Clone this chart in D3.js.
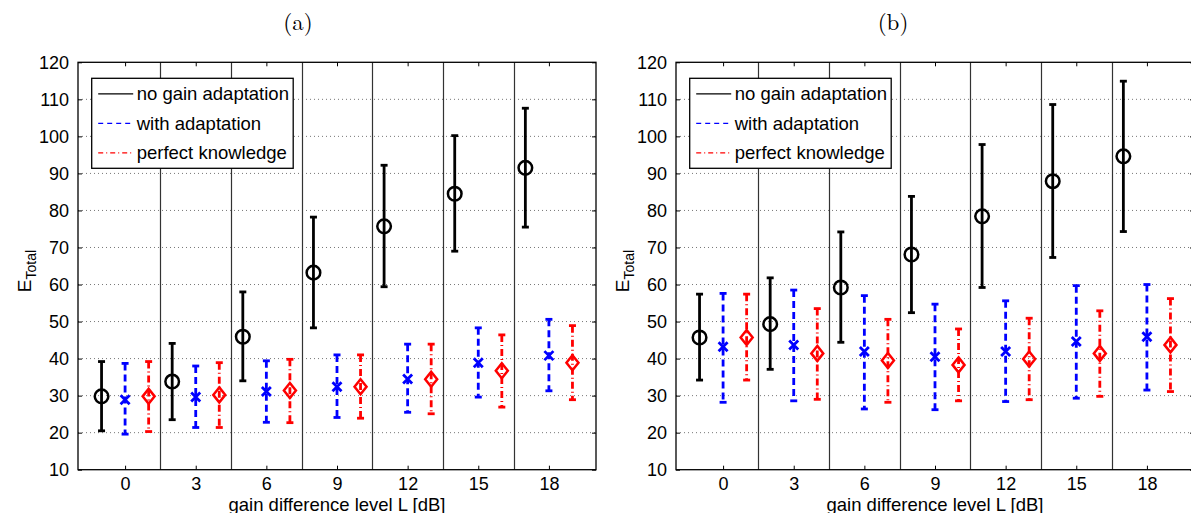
<!DOCTYPE html>
<html>
<head>
<meta charset="utf-8">
<script src="https://cdn.jsdelivr.net/npm/d3@7"></script>
<style>
  html, body { margin: 0; padding: 0; background: #fff; }
  svg { display: block; }
  text { font-family: "Liberation Sans", Arial, sans-serif; }
</style>
</head>
<body>
<script>
// ---------------- data ----------------
const levels = [0, 3, 6, 9, 12, 15, 18];
const xTicks = [0, 3, 6, 9, 12, 15, 18];
const yTicks = [10, 20, 30, 40, 50, 60, 70, 80, 90, 100, 110, 120];
const separators = [1.5, 4.5, 7.5, 10.5, 13.5, 16.5];
const seriesNames = ["no gain adaptation", "with adaptation", "perfect knowledge"];
const panelTitles = ["(a)", "(b)"];

// panel (a)
const aNoMean   = [29.8, 33.8, 45.9, 63.2, 75.7, 84.5, 91.5];
const aNoHigh   = [39.2, 44.1, 58.0, 78.2, 92.2, 100.2, 107.6];
const aNoLow    = [20.5, 23.5, 34.0, 48.3, 59.4, 69.0, 75.5];
const aWithMean = [28.9, 29.6, 31.1, 32.4, 34.5, 38.9, 40.8];
const aWithHigh = [38.7, 38.0, 39.4, 41.0, 43.9, 48.3, 50.6];
const aWithLow  = [19.6, 21.4, 22.8, 24.1, 25.5, 29.6, 31.3];
const aPerfMean = [29.8, 30.2, 31.4, 32.4, 34.4, 36.7, 38.9];
const aPerfHigh = [39.2, 38.9, 39.8, 41.0, 43.9, 46.4, 48.9];
const aPerfLow  = [20.3, 21.4, 22.7, 23.9, 25.1, 26.9, 28.9];

// panel (b)
const bNoMean   = [45.7, 49.3, 59.2, 68.1, 78.4, 87.9, 94.6];
const bNoHigh   = [57.4, 61.8, 74.2, 83.8, 97.8, 108.6, 114.9];
const bNoLow    = [34.2, 37.1, 44.4, 52.4, 59.2, 67.3, 74.3];
const bWithMean = [43.2, 43.7, 41.9, 40.5, 41.9, 44.6, 45.9];
const bWithHigh = [57.6, 58.5, 57.0, 54.7, 55.6, 59.7, 60.0];
const bWithLow  = [28.2, 28.6, 26.4, 26.2, 28.4, 29.3, 31.5];
const bPerfMean = [45.7, 41.4, 39.5, 38.3, 39.9, 41.4, 43.7];
const bPerfHigh = [57.4, 53.5, 50.6, 48.0, 50.9, 52.9, 56.2];
const bPerfLow  = [34.2, 29.0, 28.2, 28.6, 28.9, 29.8, 31.1];

// ---------------- drawing ----------------
const W = 1191, H = 513;
const svg = d3.select("body").append("svg").attr("width", W).attr("height", H);

const styles = [
  { color: "#000000", dash: null,      legendDash: null,      offset: -1, marker: "circle" },
  { color: "#0000ff", dash: "7,4",     legendDash: "5,4",     offset: 0,  marker: "x" },
  { color: "#ff0000", dash: "7,3,1,3", legendDash: "5,3,1,3", offset: 1,  marker: "diamond" }
];

function drawPanel(left, right, top, bottom, title, titleX, series) {
  const x = d3.scaleLinear().domain([-2, 20]).range([left, right]);
  const y = d3.scaleLinear().domain([10, 120]).range([bottom, top]);
  const g = svg.append("g");

  // title
  g.append("text").attr("x", titleX).attr("y", 30).attr("text-anchor", "middle")
    .style("font-family", "'Latin Modern Roman','DejaVu Serif','Liberation Serif',serif")
    .style("font-size", "23px").text(title);

  // dotted horizontal grid
  g.selectAll(".grid").data(yTicks.filter(v => v > 10 && v < 120)).enter().append("line")
    .attr("x1", left).attr("x2", right)
    .attr("y1", d => y(d)).attr("y2", d => y(d))
    .attr("stroke", "#777").attr("stroke-width", 1).attr("stroke-dasharray", "1,3");

  // separators
  g.selectAll(".sep").data(separators).enter().append("line")
    .attr("x1", d => Math.round(x(d)) + 0.5).attr("x2", d => Math.round(x(d)) + 0.5)
    .attr("y1", top).attr("y2", bottom)
    .attr("stroke", "#333").attr("stroke-width", 1.2);

  // axes (ticks inward, box)
  const axB = d3.axisBottom(x).tickValues(xTicks).tickSizeInner(-4).tickSizeOuter(0).tickPadding(8);
  const axT = d3.axisTop(x).tickValues(xTicks).tickSizeInner(-4).tickSizeOuter(0).tickFormat("");
  const axL = d3.axisLeft(y).tickValues(yTicks).tickSizeInner(-4).tickSizeOuter(0).tickPadding(9);
  const axR = d3.axisRight(y).tickValues(yTicks).tickSizeInner(-4).tickSizeOuter(0).tickFormat("");

  const styleAxis = sel => {
    sel.selectAll("path").remove();
    sel.selectAll("line").attr("stroke", "#000");
    sel.selectAll("text").style("font-family", "'Liberation Sans', Arial, sans-serif")
      .style("font-size", "18px").attr("fill", "#000");
  };
  g.append("g").attr("transform", `translate(0,${bottom})`).call(axB).call(styleAxis);
  g.append("g").attr("transform", `translate(0,${top})`).call(axT).call(styleAxis);
  g.append("g").attr("transform", `translate(${left},0)`).call(axL).call(styleAxis);
  g.append("g").attr("transform", `translate(${right},0)`).call(axR).call(styleAxis);

  // error bars + markers
  series.forEach((s, si) => {
    const st = styles[si];
    const sg = g.append("g");
    levels.forEach((L, i) => {
      const cx = x(L + st.offset);
      sg.append("line").attr("x1", cx).attr("x2", cx)
        .attr("y1", y(s.high[i])).attr("y2", y(s.low[i]))
        .attr("stroke", st.color).attr("stroke-width", 2.8)
        .attr("stroke-dasharray", st.dash);
      [s.high[i], s.low[i]].forEach(v => {
        sg.append("line").attr("x1", cx - 3.5).attr("x2", cx + 3.5)
          .attr("y1", y(v)).attr("y2", y(v))
          .attr("stroke", st.color).attr("stroke-width", 2.8);
      });
      const cy = y(s.mean[i]);
      if (st.marker === "circle") {
        sg.append("circle").attr("cx", cx).attr("cy", cy).attr("r", 6.8)
          .attr("fill", "none").attr("stroke", st.color).attr("stroke-width", 2.5);
      } else if (st.marker === "x") {
        const r = 4.5;
        sg.append("path").attr("d", `M${cx - r},${cy - r}L${cx + r},${cy + r}M${cx - r},${cy + r}L${cx + r},${cy - r}`)
          .attr("fill", "none").attr("stroke", st.color).attr("stroke-width", 2.8);
      } else {
        const rw = 6, rh = 7.5;
        sg.append("path").attr("d", `M${cx},${cy - rh}L${cx + rw},${cy}L${cx},${cy + rh}L${cx - rw},${cy}Z`)
          .attr("fill", "none").attr("stroke", st.color).attr("stroke-width", 2.5);
      }
    });
  });

  // outer box
  g.append("rect").attr("x", left).attr("y", top).attr("width", right - left).attr("height", bottom - top)
    .attr("fill", "none").attr("stroke", "#000").attr("stroke-width", 1.3);

  // legend
  const lx = left + 13.7, ly = top + 16, lw = 201.5, lh = 90;
  const lg = g.append("g");
  lg.append("rect").attr("x", lx).attr("y", ly).attr("width", lw).attr("height", lh)
    .attr("fill", "#fff").attr("stroke", "#000").attr("stroke-width", 1.3);
  seriesNames.forEach((name, i) => {
    const ry = ly + 15.5 + i * 29.5;
    lg.append("line").attr("x1", lx + 6.5).attr("x2", lx + 41.5).attr("y1", ry).attr("y2", ry)
      .attr("stroke", styles[i].color).attr("stroke-width", 1.2)
      .attr("stroke-dasharray", styles[i].legendDash);
    lg.append("text").attr("x", lx + 45).attr("y", ry + 6.5)
      .style("font-size", "18.5px").attr("fill", "#000").text(name);
  });

  // y label E_Total
  const yl = g.append("text")
    .attr("transform", `translate(${left - 47},${(top + bottom) / 2 + 5}) rotate(-90)`)
    .attr("text-anchor", "middle").style("font-size", "19px");
  yl.append("tspan").text("E");
  yl.append("tspan").attr("dy", 5).style("font-size", "14px").text("Total");

  // x label
  g.append("text").attr("x", (left + right) / 2).attr("y", 510.5).attr("text-anchor", "middle")
    .style("font-size", "18.5px").text("gain difference level L [dB]");
}

drawPanel(78, 596, 62.3, 469.7, panelTitles[0], 298, [
  { mean: aNoMean, high: aNoHigh, low: aNoLow },
  { mean: aWithMean, high: aWithHigh, low: aWithLow },
  { mean: aPerfMean, high: aPerfHigh, low: aPerfLow }
]);
drawPanel(676, 1194, 62.3, 469.7, panelTitles[1], 893, [
  { mean: bNoMean, high: bNoHigh, low: bNoLow },
  { mean: bWithMean, high: bWithHigh, low: bWithLow },
  { mean: bPerfMean, high: bPerfHigh, low: bPerfLow }
]);
</script>
</body>
</html>
